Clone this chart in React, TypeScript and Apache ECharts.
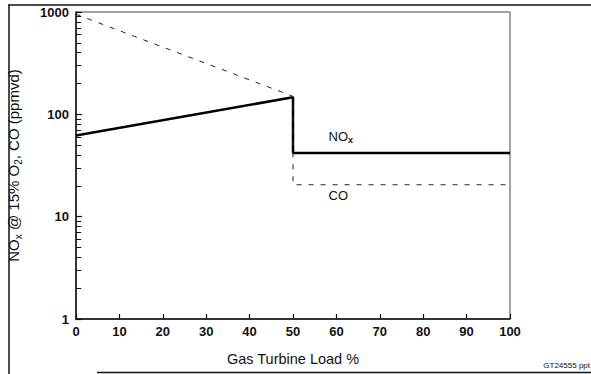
import React, { useEffect, useRef } from "react";
import * as echarts from "echarts";

// Data
const noxPoints: [number, number][] = [
  [0, 62],
  [50, 147],
  [50, 42],
  [100, 42],
];
const coPoints: [number, number][] = [
  [0, 950],
  [50, 150],
  [50, 20.5],
  [100, 20.5],
];
const xTicks = [0, 10, 20, 30, 40, 50, 60, 70, 80, 90, 100];
const yMajorTicks = [1, 10, 100, 1000];
const yMinorTicks = [
  2, 3, 4, 5, 6, 7, 8, 9, 20, 30, 40, 50, 60, 70, 80, 90, 200, 300, 400, 500,
  600, 700, 800, 900,
];
const minorTickLength = 1.2; // in x-axis units (load %)
const noxLabelAt: [number, number] = [58.2, 61];
const coLabelAt: [number, number] = [58.2, 16];

const FONT = "'Liberation Sans', Arial, Helvetica, sans-serif";

export default function App() {
  const ref = useRef<HTMLDivElement>(null);
  useEffect(() => {
    if (!ref.current) return;
    const chart = echarts.init(ref.current, undefined, { renderer: "svg" });
    chart.setOption({
      animation: false,
      backgroundColor: "#ffffff",
      grid: {
        left: 76,
        right: 81,
        top: 12,
        bottom: 55,
        containLabel: false,
        outerBoundsMode: "none",
        show: true,
        borderColor: "#444",
        borderWidth: 1,
        backgroundColor: "transparent",
      },
      xAxis: {
        type: "value",
        min: xTicks[0],
        max: xTicks[xTicks.length - 1],
        interval: 10,
        name: "Gas Turbine Load %",
        nameLocation: "middle",
        nameGap: 32,
        nameTextStyle: { fontFamily: FONT, fontSize: 14.5, color: "#111" },
        axisLine: { show: true, lineStyle: { color: "#111", width: 1.5 } },
        axisTick: {
          show: true,
          inside: true,
          length: 5,
          lineStyle: { color: "#111", width: 1.2 },
        },
        axisLabel: {
          fontFamily: FONT,
          fontSize: 13,
          fontWeight: "bold",
          color: "#111",
          margin: 6,
        },
        splitLine: { show: false },
      },
      yAxis: {
        type: "log",
        logBase: 10,
        min: yMajorTicks[0],
        max: yMajorTicks[yMajorTicks.length - 1],
        name: "{n|NO}{s|x}{n| @ 15% O}{s|2}{n|, CO (ppmvd)}",
        nameLocation: "middle",
        nameRotate: 90,
        nameGap: 53,
        nameTextStyle: {
          fontFamily: FONT,
          color: "#111",
          rich: {
            n: { fontFamily: FONT, fontSize: 15, color: "#111", lineHeight: 20 },
            s: {
              fontFamily: FONT,
              fontSize: 10,
              color: "#111",
              verticalAlign: "bottom",
            },
          },
        },
        axisLine: { show: true, lineStyle: { color: "#111", width: 1.5 } },
        axisTick: {
          show: true,
          inside: true,
          length: 6,
          lineStyle: { color: "#111", width: 1.2 },
        },
        axisLabel: {
          fontFamily: FONT,
          fontSize: 13,
          fontWeight: "bold",
          color: "#111",
          margin: 7,
          formatter: (v: number) => String(Math.round(v)),
        },
        splitLine: { show: false },
        minorTick: { show: false },
      },
      series: [
        {
          name: "NOx",
          type: "line",
          data: noxPoints,
          showSymbol: false,
          symbol: "none",
          lineStyle: { color: "#000", width: 2.5 },
          markPoint: {
            symbol: "circle",
            symbolSize: 0,
            data: [
              {
                coord: noxLabelAt,
                label: {
                  show: true,
                  position: "right",
                  distance: 0,
                  formatter: "{n|NO}{s|x}",
                  rich: {
                    n: { fontFamily: FONT, fontSize: 13, color: "#111", lineHeight: 16 },
                    s: {
                      fontFamily: FONT,
                      fontSize: 9,
                      fontWeight: "bold",
                      color: "#111",
                      verticalAlign: "bottom",
                    },
                  },
                },
              },
            ],
          },
        },
        {
          name: "CO",
          type: "line",
          data: coPoints,
          showSymbol: false,
          symbol: "none",
          lineStyle: { color: "#222", width: 1, type: [5, 7] },
          markPoint: {
            symbol: "circle",
            symbolSize: 0,
            data: [
              {
                coord: coLabelAt,
                label: {
                  show: true,
                  position: "right",
                  distance: 0,
                  formatter: "CO",
                  fontFamily: FONT,
                  fontSize: 13,
                  color: "#111",
                },
              },
            ],
          },
          markLine: {
            silent: true,
            symbol: ["none", "none"],
            label: { show: false },
            lineStyle: { color: "#111", width: 1, type: "solid" },
            emphasis: { disabled: true },
            data: yMinorTicks.map((v) => [
              { coord: [xTicks[0], v] },
              { coord: [xTicks[0] + minorTickLength, v] },
            ]),
          },
        },
      ],
      graphic: [
        {
          type: "line",
          shape: { x1: 8, y1: 5, x2: 591, y2: 5 },
          style: { stroke: "#111", lineWidth: 1.5 },
          silent: true,
        },
        {
          type: "line",
          shape: { x1: 9, y1: 5, x2: 9, y2: 374 },
          style: { stroke: "#111", lineWidth: 1.5 },
          silent: true,
        },
        {
          type: "line",
          shape: { x1: 97, y1: 372.5, x2: 591, y2: 372.5 },
          style: { stroke: "#111", lineWidth: 1.5 },
          silent: true,
        },
        {
          type: "text",
          x: 590,
          y: 365,
          style: {
            text: "GT24555 ppt",
            fontFamily: FONT,
            fontSize: 8,
            fill: "#111",
            align: "right",
            verticalAlign: "middle",
          },
          silent: true,
        },
      ],
    });
    return () => chart.dispose();
  }, []);
  return (
    <div
      ref={ref}
      style={{ position: "fixed", left: 0, top: 0, width: 591, height: 374 }}
    />
  );
}
